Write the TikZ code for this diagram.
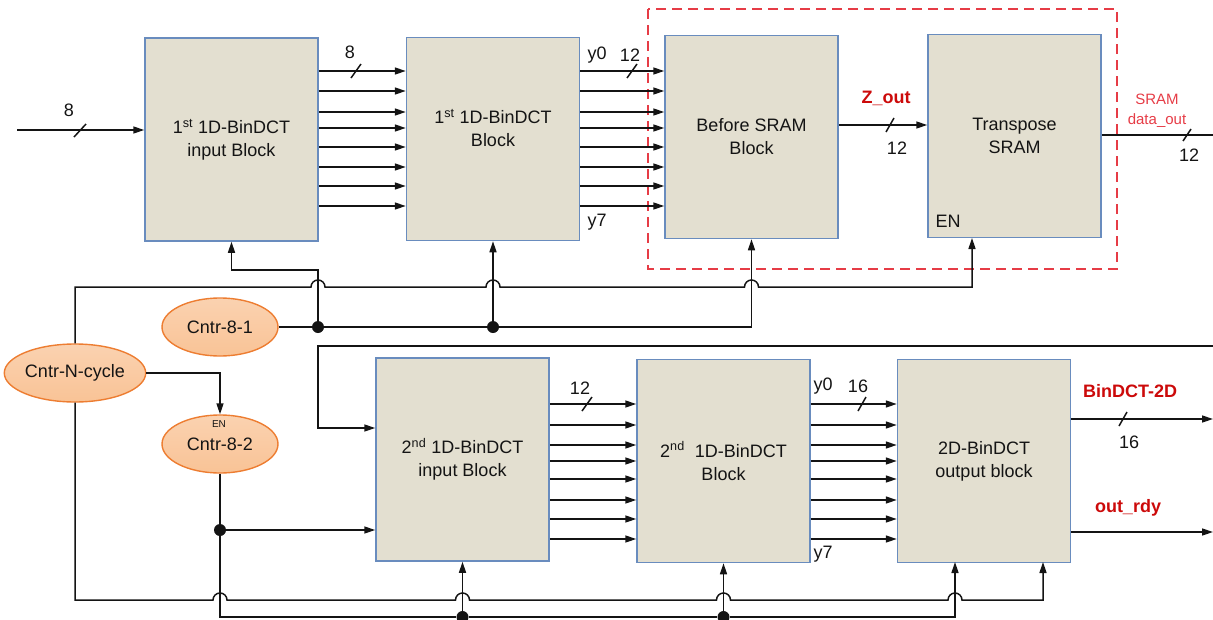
\documentclass[tikz,border=0pt]{standalone}
\usepackage{fontspec}
\setmainfont{Liberation Sans}
\usetikzlibrary{arrows.meta,shapes.geometric}
\definecolor{blkfill}{RGB}{227,223,208}
\definecolor{blkdraw}{RGB}{105,140,190}
\definecolor{ellfill}{RGB}{249,195,150}
\definecolor{elldraw}{RGB}{237,125,49}
\definecolor{lblred}{RGB}{204,10,10}
\definecolor{dashred}{RGB}{230,60,70}
\definecolor{inkc}{RGB}{20,20,20}
\begin{document}
\begin{tikzpicture}[x=1pt,y=-1pt,
  blk/.style={draw=blkdraw,line width=1.5pt,fill=blkfill,minimum width=173pt,minimum height=203pt,inner sep=0pt,align=center,font=\fontsize{18}{23}\selectfont,text=inkc},
  blktext/.style={align=center,font=\fontsize{18}{23}\selectfont,text=inkc,inner sep=0pt},
  ell/.style={ellipse,draw=elldraw,line width=1.4pt,top color=ellfill!75!white,bottom color=ellfill,minimum height=58pt,inner sep=0pt,font=\fontsize{18}{22}\selectfont,text=inkc},
  wire/.style={line width=1.5pt,draw=inkc},
  arr/.style={wire,-{Triangle[length=11pt,width=7pt]}},
  jdot/.style={circle,fill=inkc,inner sep=0pt,minimum size=12pt},
  lbl/.style={font=\fontsize{18}{22}\selectfont,inner sep=0pt,text=inkc},
  redlbl/.style={font=\bfseries\fontsize{18}{22}\selectfont,text=lblred,inner sep=0pt},
  smallred/.style={font=\fontsize{15}{20}\selectfont,text=dashred,inner sep=0pt,align=center}
]
\useasboundingbox (0,0) rectangle (1213,619);

% red dashed frame
\draw[dashred,line width=1.6pt,dash pattern=on 10pt off 6pt] (648,9) rectangle (1117,269);

% blocks
\node[blk] (B1) at (231.5,139.5) {1\textsuperscript{st} 1D-BinDCT\\input Block};
\node[blk] (B2) at (493,139) {};
\node[blktext] (B2t) at (493,128) {1\textsuperscript{st} 1D-BinDCT\\Block};
\node[blk] (B3) at (751.5,137) {Before SRAM\\Block};
\node[blk] (B4) at (1014.5,136) {Transpose\\SRAM};
\node[lbl] (en4) at (948,221) {EN};
\node[blk] (B5) at (462.5,459.5) {2\textsuperscript{nd} 1D-BinDCT\\input Block};
\node[blk] (B6) at (723.5,461) {2\textsuperscript{nd}\ \ 1D-BinDCT\\Block};
\node[blk] (B7) at (984,461) {2D-BinDCT\\output block};

% counters
\node[ell,minimum width=139pt] (N) at (75,373) {Cntr-N-cycle};
\node[ell,minimum width=116pt] (C1) at (220,327) {Cntr-8-1};
\node[ell,minimum width=116pt] (C2) at (220,444) {Cntr-8-2};
\node[font=\fontsize{10}{11}\selectfont,inner sep=0pt,text=inkc] (c2en) at (219,424) {EN};

% input
\coordinate (in) at (17,130);
\draw[arr] (in) -- (B1.west |- in);
\draw[wire] (74,137) -- (86,124);
\node[lbl] (l8a) at (69,110) {8};

% buses top
\foreach \yy in {71,91,112,128,147,167,186,206}{
  \draw[arr] (B1.east |- 0,\yy) -- (B2.west |- 0,\yy);
  \draw[arr] (B2.east |- 0,\yy) -- (B3.west |- 0,\yy);
}
\draw[wire] (351,78) -- (361,64);
\node[lbl] (l8b) at (350,52) {8};
\draw[wire] (627,78) -- (637,64);
\node[lbl] (y0a) at (597,55) {y0};
\node[lbl] (l12a) at (630,55) {12};
\node[lbl] (y7a) at (597,222) {y7};

% Z_out
\draw[arr] (B3.east |- 0,125) -- (B4.west |- 0,125);
\draw[wire] (886,132) -- (894,118);
\node[redlbl] (zout) at (886,98) {Z\_out};
\node[lbl] (l12b) at (897,148) {12};

% SRAM data_out
\coordinate (sramo) at (1213,135);
\draw[wire] (B4.east |- sramo) -- (sramo);
\draw[wire] (1183,141) -- (1191,129);
\node[smallred] (sdo) at (1157,111) {SRAM\\data\_out};
\node[lbl] (l12c) at (1189,155) {12};

% feedback into 2nd stage
\coordinate (ret) at (1213,346);
\coordinate (retc) at (318,428);
\draw[arr] (ret) -| (retc) -- (B5.west |- retc);

% Cntr-8-1 distribution
\node[jdot] (d1) at (318,327) {};
\node[jdot] (d2) at (493,327) {};
\draw[arr] (C1.east) -- (B3.south |- C1.east) -- (B3.south);
\draw[arr] (d2) -- (B2.south);
\coordinate (d1t) at (318,270);
\draw[arr] (d1) -- (d1t) -| (B1.south);

% Cntr-N-cycle top line with hops
\coordinate (ntop) at (75,287);
\coordinate (enb) at (972,238);
\draw[arr] (N.north) -- (ntop) -- (311,287) arc[start angle=180,end angle=360,radius=7]
  -- (486,287) arc[start angle=180,end angle=360,radius=7]
  -- (744.5,287) arc[start angle=180,end angle=360,radius=7]
  -- (972,287) -- (enb);

% Cntr-N-cycle -> Cntr-8-2 enable
\draw[arr] (N.east) -| (C2.north);

% Cntr-N-cycle bottom line with hops
\coordinate (nbot) at (75,600);
\coordinate (b7b) at (1043,562);
\draw[arr] (N.south) -- (nbot) -- (213,600) arc[start angle=180,end angle=360,radius=7]
  -- (455.5,600) arc[start angle=180,end angle=360,radius=7]
  -- (716.5,600) arc[start angle=180,end angle=360,radius=7]
  -- (948,600) arc[start angle=180,end angle=360,radius=7]
  -- (1043,600) -- (b7b);

% Cntr-8-2 distribution
\node[jdot] (d3) at (220,530) {};
\node[jdot] (d4) at (462.5,617) {};
\node[jdot] (d5) at (723.5,617) {};
\coordinate (b7a) at (955,562);
\draw[arr] (C2.south) |- (d4) -- (d5) -| (b7a);
\draw[arr] (d3) -- (B5.west |- d3);
\draw[arr] (d4) -- (B5.south);
\draw[arr] (d5) -- (B6.south);

% buses bottom
\foreach \yy in {404,425,445,461,479,500,519,539}{
  \draw[arr] (B5.east |- 0,\yy) -- (B6.west |- 0,\yy);
  \draw[arr] (B6.east |- 0,\yy) -- (B7.west |- 0,\yy);
}
\draw[wire] (582,411) -- (592,397);
\node[lbl] (l12d) at (580,388) {12};
\draw[wire] (858,411) -- (866,397);
\node[lbl] (y0b) at (823,386) {y0};
\node[lbl] (l16a) at (858,386) {16};
\node[lbl] (y7b) at (823,554) {y7};

% outputs
\coordinate (bout) at (1213,419);
\coordinate (rout) at (1213,532);
\draw[arr] (B7.east |- bout) -- (bout);
\draw[wire] (1119,426) -- (1127,412);
\node[redlbl] (bdct) at (1130,391) {BinDCT-2D};
\node[lbl] (l16b) at (1129,442) {16};
\draw[arr] (B7.east |- rout) -- (rout);
\node[redlbl] (ordy) at (1128,508) {out\_rdy};
\end{tikzpicture}
\end{document}
